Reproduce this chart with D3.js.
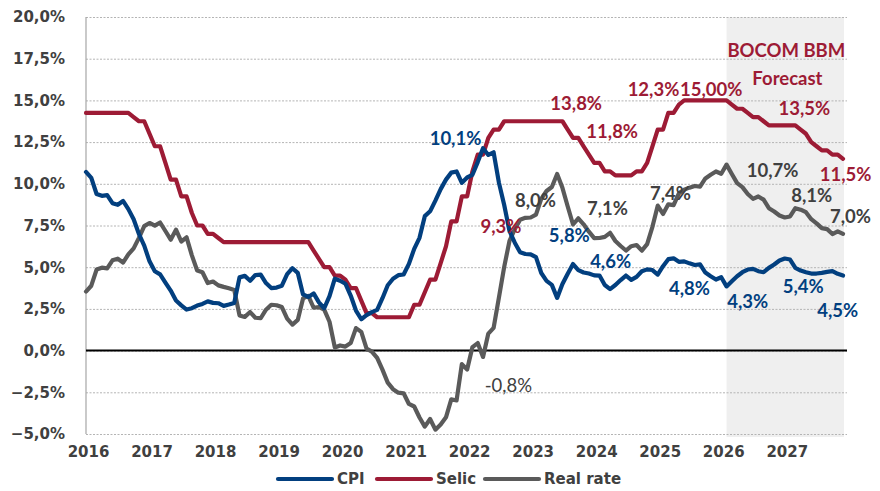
<!DOCTYPE html>

<head>
  <meta charset="utf-8">
  <script src="https://d3js.org/d3.v7.min.js"></script>
  <style>
    body {
      margin: 0;
      background-color: #fff;
    }

    .axis text {
      font-family: "DejaVu Sans", sans-serif;
      font-weight: bold;
      font-size: 15px;
      fill: #404040;
    }

    .lbl {
      font-family: Lato, "Open Sans", sans-serif;
      font-weight: bold;
      font-size: 18.5px;
    }
  </style>
</head>

<body>
  <div id="graph"></div>
  <script>
    var width = 880;
    var height = 491;

    // x categories: one point per month, Jan 2016 .. Dec 2027
    var years = [2016, 2017, 2018, 2019, 2020, 2021, 2022, 2023, 2024, 2025, 2026, 2027];
    var yTicks = [-5, -2.5, 0, 2.5, 5, 7.5, 10, 12.5, 15, 17.5, 20];
    var forecastStart = 121; // month index (Feb 2026)

    var cpi = [
      10.71, 10.36, 9.39, 9.28, 9.32, 8.84, 8.74, 8.97, 8.48, 7.87, 6.99, 6.29,
      5.35, 4.76, 4.57, 4.08, 3.60, 3.00, 2.71, 2.46, 2.54, 2.70, 2.80, 2.95,
      2.86, 2.84, 2.68, 2.76, 2.86, 4.39, 4.48, 4.19, 4.53, 4.56, 4.05, 3.75,
      3.78, 3.89, 4.58, 4.94, 4.66, 3.37, 3.22, 3.43, 2.89, 2.54, 3.27, 4.31,
      4.19, 4.01, 3.30, 2.40, 1.88, 2.13, 2.31, 2.44, 3.14, 3.92, 4.31, 4.52,
      4.56, 5.20, 6.10, 6.76, 8.06, 8.35, 8.99, 9.68, 10.25, 10.67, 10.74, 10.06,
      10.38, 10.54, 11.30, 12.13, 11.73, 11.89, 10.07, 8.73, 7.17, 6.47, 5.90, 5.79,
      5.77, 5.60, 4.65, 4.18, 3.94, 3.16, 3.99, 4.61, 5.19, 4.82, 4.68, 4.62,
      4.51, 4.50, 3.93, 3.69, 3.93, 4.23, 4.50, 4.24, 4.42, 4.76, 4.87, 4.83,
      4.56, 5.06, 5.48, 5.53, 5.32, 5.35, 5.23, 5.13, 5.17, 4.68, 4.46, 4.26,
      4.40, 3.85, 4.16, 4.46, 4.70, 4.86, 4.90, 4.76, 4.70, 4.96, 5.16, 5.40,
      5.52, 5.46, 4.96, 4.80, 4.70, 4.62, 4.62, 4.66, 4.72, 4.76, 4.60, 4.50
    ];

    var selic = [
      14.25, 14.25, 14.25, 14.25, 14.25, 14.25, 14.25, 14.25, 14.25, 14.00, 13.75, 13.75,
      13.00, 12.25, 12.25, 11.25, 10.25, 10.25, 9.25, 9.25, 8.25, 7.50, 7.50, 7.00,
      7.00, 6.75, 6.50, 6.50, 6.50, 6.50, 6.50, 6.50, 6.50, 6.50, 6.50, 6.50,
      6.50, 6.50, 6.50, 6.50, 6.50, 6.50, 6.50, 6.00, 5.50, 5.00, 5.00, 4.50,
      4.50, 4.25, 3.75, 3.75, 3.00, 2.25, 2.25, 2.00, 2.00, 2.00, 2.00, 2.00,
      2.00, 2.00, 2.75, 2.75, 3.50, 4.25, 4.25, 5.25, 6.25, 7.75, 7.75, 9.25,
      9.25, 10.75, 11.75, 11.75, 12.75, 13.25, 13.25, 13.75, 13.75, 13.75, 13.75, 13.75,
      13.75, 13.75, 13.75, 13.75, 13.75, 13.75, 13.75, 13.25, 12.75, 12.75, 12.25, 11.75,
      11.25, 11.25, 10.75, 10.75, 10.50, 10.50, 10.50, 10.50, 10.75, 10.75, 11.25, 12.25,
      13.25, 13.25, 14.25, 14.25, 14.75, 15.00, 15.00, 15.00, 15.00, 15.00, 15.00, 15.00,
      15.00, 15.00, 14.75, 14.50, 14.50, 14.25, 14.00, 14.00, 13.75, 13.50, 13.50, 13.50,
      13.50, 13.50, 13.50, 13.25, 13.00, 12.50, 12.25, 12.00, 12.00, 11.75, 11.75, 11.50
    ];

    var realRate = [
      3.54, 3.89, 4.86, 4.97, 4.93, 5.41, 5.51, 5.28, 5.77, 6.13, 6.76, 7.46,
      7.65, 7.49, 7.68, 7.17, 6.65, 7.25, 6.54, 6.79, 5.71, 4.80, 4.70, 4.05,
      4.14, 3.91, 3.82, 3.74, 3.64, 2.11, 2.02, 2.31, 1.97, 1.94, 2.45, 2.75,
      2.72, 2.61, 1.92, 1.56, 1.84, 3.13, 3.28, 2.57, 2.61, 2.46, 1.73, 0.19,
      0.31, 0.24, 0.45, 1.35, 1.12, 0.12, -0.06, -0.44, -1.14, -1.92, -2.31, -2.52,
      -2.56, -3.20, -3.35, -4.01, -4.56, -4.10, -4.74, -4.43, -4.00, -2.92, -2.99, -0.81,
      -1.13, 0.21, 0.45, -0.38, 1.02, 1.36, 3.18, 5.02, 6.58, 7.28, 7.85, 7.96,
      7.98, 8.15, 9.10, 9.57, 9.81, 10.59, 9.76, 8.64, 7.56, 7.93, 7.57, 7.13,
      6.74, 6.75, 6.82, 7.06, 6.57, 6.27, 6.00, 6.26, 6.33, 5.99, 6.38, 7.42,
      8.69, 8.19, 8.77, 8.72, 9.43, 9.65, 9.77, 9.87, 9.83, 10.32, 10.54, 10.74,
      10.60, 11.15, 10.59, 10.04, 9.80, 9.39, 9.10, 9.24, 9.05, 8.54, 8.34, 8.10,
      7.98, 8.04, 8.54, 8.45, 8.30, 7.88, 7.63, 7.34, 7.28, 6.99, 7.15, 7.00
    ];

    var seriesNames = ["CPI", "Selic", "Real rate"];
    var seriesColors = ["#023f7f", "#9d1b35", "#5a5a5a"];
    var textColors = ["#023f7f", "#9d1b35", "#404040"];

    // annotation anchors in data units: [month index, value]
    var notes = [
      { s: 0, t: "10,1%", at: [69.8, 12.33] },
      { s: 0, t: "5,8%", at: [91.3, 6.51] },
      { s: 0, t: "4,6%", at: [99.1, 4.95] },
      { s: 0, t: "4,8%", at: [114.0, 3.33] },
      { s: 0, t: "4,3%", at: [125.0, 2.55] },
      { s: 0, t: "5,4%", at: [135.5, 3.45] },
      { s: 0, t: "4,5%", at: [142.0, 2.01] },
      { s: 1, t: "9,3%", at: [78.4, 7.05] },
      { s: 1, t: "13,8%", at: [92.6, 14.42] },
      { s: 1, t: "11,8%", at: [99.4, 12.75] },
      { s: 1, t: "12,3%", at: [107.2, 15.26] },
      { s: 1, t: "15,00%", at: [118.1, 15.26] },
      { s: 1, t: "BOCOM BBM", at: [132.3, 17.6] },
      { s: 1, t: "Forecast", at: [132.5, 15.92] },
      { s: 1, t: "13,5%", at: [135.7, 14.12] },
      { s: 1, t: "11,5%", at: [143.5, 10.17] },
      { s: 2, t: "8,0%", at: [84.9, 8.61] },
      { s: 2, t: "7,1%", at: [98.5, 8.13] },
      { s: 2, t: "7,4%", at: [110.4, 9.03] },
      { s: 2, t: "10,7%", at: [129.7, 10.41] },
      { s: 2, t: "8,1%", at: [137.1, 8.91] },
      { s: 2, t: "7,0%", at: [144.4, 7.65] },
      { s: 2, t: "-0,8%", at: [79.8, -2.48], light: true }
    ];

    var svg = d3.select("#graph").append("svg")
      .attr("width", width)
      .attr("height", height);

    var plotLeft = 86, plotRight = 843, plotTop = 17, plotBottom = 434, gridEnd = 847;
    var nMonths = years.length * 12;

    var x = d3.scaleLinear()
      .domain([0, nMonths - 1])
      .range([plotLeft, plotRight]);

    var y = d3.scaleLinear()
      .domain([-5, 20])
      .range([plotBottom, plotTop]);

    var pct = d3.formatLocale({ decimal: ",", thousands: ".", grouping: [3], currency: ["", ""] }).format(".1f");

    // forecast shading
    svg.append("rect")
      .attr("x", x(forecastStart))
      .attr("y", plotTop)
      .attr("width", x(nMonths - 1) - x(forecastStart) + 1)
      .attr("height", plotBottom - plotTop + 3)
      .attr("fill", "#efefef");

    // gridlines + y labels
    var yAxis = svg.append("g")
      .attr("class", "axis")
      .attr("transform", "translate(" + plotLeft + ",0)")
      .call(d3.axisLeft(y).tickValues(yTicks).tickSize(-(gridEnd - plotLeft)).tickPadding(21)
        .tickFormat(d => pct(d) + "%"));
    yAxis.select(".domain").remove();
    yAxis.selectAll(".tick line")
      .attr("stroke", "#b4b4b4")
      .attr("stroke-dasharray", "2,1.5")
      .attr("stroke-width", 1);

    // left axis line
    svg.append("line")
      .attr("x1", plotLeft).attr("x2", plotLeft)
      .attr("y1", plotTop).attr("y2", plotBottom)
      .attr("stroke", "#a6a6a6")
      .attr("stroke-width", 1.2);

    // zero line
    svg.append("line")
      .attr("x1", plotLeft).attr("x2", gridEnd)
      .attr("y1", y(0)).attr("y2", y(0))
      .attr("stroke", "#000")
      .attr("stroke-width", 2);

    // x labels
    var xAxis = svg.append("g")
      .attr("class", "axis")
      .attr("transform", "translate(2," + plotBottom + ")")
      .call(d3.axisBottom(x).tickValues(years.map((d, i) => i * 12)).tickSize(0).tickPadding(12)
        .tickFormat((d, i) => years[i]));
    xAxis.select(".domain").remove();

    // lines (real rate underneath, CPI on top)
    var line = d3.line()
      .x((d, i) => x(i))
      .y(d => y(d));

    var drawOrder = [2, 1, 0];
    var allSeries = [cpi, selic, realRate];
    svg.selectAll(".line").data(drawOrder).enter()
      .append("path")
      .attr("class", "line")
      .attr("d", k => line(allSeries[k]))
      .attr("fill", "none")
      .attr("stroke", k => seriesColors[k])
      .attr("stroke-width", 4.2)
      .attr("stroke-linejoin", "round")
      .attr("stroke-linecap", "round");

    // labels
    svg.selectAll(".lbl").data(notes).enter()
      .append("text")
      .attr("class", "lbl")
      .attr("x", d => x(d.at[0]))
      .attr("y", d => y(d.at[1]))
      .attr("text-anchor", "middle")
      .attr("fill", d => textColors[d.s])
      .style("font-weight", d => d.light ? "normal" : "bold")
      .text(d => d.t);

    // legend
    var legX = [278, 377, 485];
    var leg = svg.selectAll(".leg").data(seriesNames).enter()
      .append("g")
      .attr("class", "leg axis")
      .attr("transform", (d, i) => "translate(" + legX[i] + ",479)");
    leg.append("line")
      .attr("x1", 0).attr("x2", 54)
      .attr("stroke", (d, i) => seriesColors[i])
      .attr("stroke-width", 4.2)
      .attr("stroke-linecap", "round");
    leg.append("text")
      .attr("x", 59)
      .attr("dy", "0.36em")
      .text(d => d);
  </script>
</body>
